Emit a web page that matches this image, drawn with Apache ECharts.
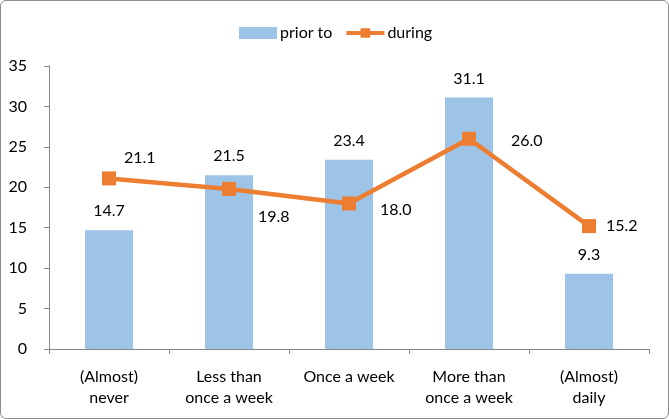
<!DOCTYPE html>
<html>
<head>
<meta charset="utf-8">
<script src="https://cdn.jsdelivr.net/npm/echarts@6/dist/echarts.min.js"></script>
<style>
html,body{margin:0;padding:0;background:#fff;}
#frame{position:absolute;left:0;top:0;width:669px;height:419px;box-sizing:border-box;border:1.5px solid #8c8c8c;border-radius:6px;overflow:hidden;}
#chart{position:absolute;left:0;top:0;width:669px;height:419px;}
</style>
</head>
<body>
<div id="chart"></div>
<div id="frame"></div>
<script>
const categories = ['(Almost)\nnever', 'Less than\nonce a week', 'Once a week', 'More than\nonce a week', '(Almost)\ndaily'];
const priorTo = [14.7, 21.5, 23.4, 31.1, 9.3];
const during = [21.1, 19.8, 18.0, 26.0, 15.2];
const yTicks = [0, 5, 10, 15, 20, 25, 30, 35];

const font = 'Lato, "Open Sans", sans-serif';
const fs = 16;
const txt = '#000';
// label placement offsets for the line labels (style only)
const lineLabelOffsets = [[3, -21], [17, 28], [19, 6], [30, 2], [5, 0]];

const chart = echarts.init(document.getElementById('chart'), null, {renderer: 'canvas'});
chart.setOption({
  animation: false,
  backgroundColor: '#fff',
  textStyle: {fontFamily: font},
  legend: {
    top: 20,
    left: 234,
    itemWidth: 38,
    itemHeight: 12,
    itemGap: 12,
    textStyle: {fontFamily: font, fontSize: fs, color: txt, padding: [0, 0, 0, -2]},
    data: [
      {name: 'prior to', icon: 'rect'},
      {name: 'during', lineStyle: {width: 4, color: '#ED7D31'}}
    ]
  },
  grid: {left: 49, right: 20, top: 66, bottom: 70, containLabel: false},
  xAxis: {
    type: 'category',
    data: categories,
    axisLine: {lineStyle: {color: '#868686', width: 1}},
    axisTick: {show: true, length: 5, alignWithLabel: false, lineStyle: {color: '#868686'}},
    axisLabel: {fontFamily: font, fontSize: fs, color: txt, lineHeight: 21, margin: 17, interval: 0}
  },
  yAxis: {
    type: 'value',
    min: yTicks[0],
    max: yTicks[yTicks.length - 1],
    interval: 5,
    axisLine: {show: true, lineStyle: {color: '#868686', width: 1}},
    axisTick: {show: true, length: 5, lineStyle: {color: '#868686'}},
    splitLine: {show: false},
    axisLabel: {fontFamily: font, fontSize: fs, color: txt, margin: 22}
  },
  series: [
    {
      name: 'prior to',
      type: 'bar',
      data: priorTo,
      barWidth: 48,
      itemStyle: {color: '#9DC3E6'},
      label: {
        show: true, position: 'top', distance: 11,
        fontFamily: font, fontSize: fs, color: txt,
        formatter: p => p.value.toFixed(1)
      }
    },
    {
      name: 'during',
      type: 'line',
      data: during.map((v, i) => ({
        value: v,
        label: {offset: lineLabelOffsets[i]}
      })),
      symbol: 'rect',
      symbolSize: 14,
      lineStyle: {color: '#ED7D31', width: 4.5},
      itemStyle: {color: '#ED7D31'},
      z: 5,
      label: {
        show: true, position: 'right', distance: 5,
        fontFamily: font, fontSize: fs, color: txt,
        formatter: p => p.value.toFixed(1)
      }
    }
  ]
});
</script>
</body>
</html>
